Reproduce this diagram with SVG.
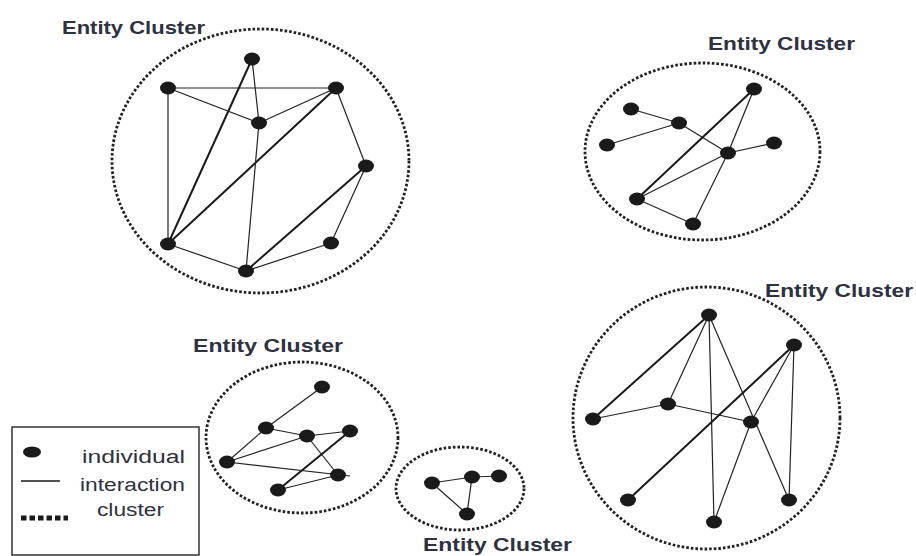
<svg xmlns="http://www.w3.org/2000/svg" width="916" height="556" viewBox="0 0 916 556">
<style>
.cl{fill:none;stroke:#222;stroke-width:2.8;stroke-dasharray:2.6 2}
.n{fill:#1a1a1a}
.e{stroke:#222;stroke-width:1.2;fill:none}
.t{stroke:#1a1a1a;stroke-width:2;fill:none}
.lbl{font-family:"Liberation Sans",Arial,sans-serif;font-weight:bold;font-size:19px;fill:#2e3140}
.lg{font-family:"Liberation Sans",Arial,sans-serif;font-size:18px;fill:#2e3140}
</style>
<rect width="916" height="556" fill="#fff"/>

<g id="clusters">
<ellipse id="cluster1" class="cl" cx="260.5" cy="161" rx="148.5" ry="132"/>
<ellipse id="cluster2" class="cl" cx="702.5" cy="151.5" rx="117.5" ry="88.5"/>
<ellipse id="cluster3" class="cl" cx="302" cy="437.5" rx="96" ry="75.5"/>
<ellipse id="cluster4" class="cl" cx="460" cy="488.5" rx="64" ry="41.5"/>
<ellipse id="cluster5" class="cl" cx="706.5" cy="418" rx="133.5" ry="131"/>
</g>

<g id="labels">
<text class="lbl" x="62" y="34" textLength="143" lengthAdjust="spacingAndGlyphs">Entity Cluster</text>
<text class="lbl" x="708" y="50" textLength="147" lengthAdjust="spacingAndGlyphs">Entity Cluster</text>
<text class="lbl" x="193" y="352" textLength="150" lengthAdjust="spacingAndGlyphs">Entity Cluster</text>
<text class="lbl" x="765" y="297" textLength="148" lengthAdjust="spacingAndGlyphs">Entity Cluster</text>
<text class="lbl" x="423" y="551" textLength="149" lengthAdjust="spacingAndGlyphs">Entity Cluster</text>
</g>

<g id="connectors">
<!-- cluster 1 -->
<line class="e" x1="168" y1="88" x2="336" y2="88"/>
<line class="e" x1="168" y1="88" x2="259" y2="123"/>
<line class="e" x1="259" y1="123" x2="336" y2="88"/>
<line class="e" x1="252" y1="59" x2="259" y2="123"/>
<line class="t" x1="252" y1="59" x2="168" y2="244"/>
<line class="e" x1="168" y1="88" x2="168" y2="244"/>
<line class="t" x1="336" y1="88" x2="168" y2="244"/>
<line class="e" x1="336" y1="88" x2="366" y2="166"/>
<line class="e" x1="259" y1="123" x2="246" y2="271"/>
<line class="e" x1="168" y1="244" x2="246" y2="271"/>
<line class="t" x1="366" y1="166" x2="246" y2="271"/>
<line class="e" x1="366" y1="166" x2="331" y2="243"/>
<line class="e" x1="331" y1="243" x2="246" y2="271"/>
<!-- cluster 2 -->
<line class="e" x1="631" y1="109" x2="679" y2="123"/>
<line class="e" x1="679" y1="123" x2="607" y2="145"/>
<line class="e" x1="679" y1="123" x2="728" y2="153"/>
<line class="e" x1="728" y1="153" x2="774" y2="143"/>
<line class="t" x1="754" y1="89" x2="637" y2="199"/>
<line class="e" x1="754" y1="89" x2="728" y2="153"/>
<line class="e" x1="728" y1="153" x2="637" y2="199"/>
<line class="e" x1="728" y1="153" x2="693" y2="224"/>
<line class="e" x1="637" y1="199" x2="693" y2="224"/>
<!-- cluster 3 -->
<line class="e" x1="322" y1="387" x2="266" y2="428"/>
<line class="e" x1="266" y1="428" x2="307" y2="436"/>
<line class="e" x1="307" y1="436" x2="350" y2="431"/>
<line class="e" x1="266" y1="428" x2="227" y2="462"/>
<line class="e" x1="307" y1="436" x2="227" y2="462"/>
<line class="e" x1="227" y1="462" x2="350" y2="476"/>
<line class="e" x1="307" y1="436" x2="338" y2="475"/>
<line class="t" x1="350" y1="431" x2="278" y2="490"/>
<line class="e" x1="278" y1="490" x2="338" y2="475"/>
<!-- cluster 4 -->
<line class="e" x1="432" y1="483" x2="472" y2="477"/>
<line class="e" x1="472" y1="477" x2="499" y2="476"/>
<line class="e" x1="432" y1="483" x2="467" y2="514"/>
<line class="e" x1="472" y1="477" x2="467" y2="514"/>
<!-- cluster 5 -->
<line class="t" x1="709" y1="315" x2="593" y2="419"/>
<line class="e" x1="709" y1="315" x2="668" y2="404"/>
<line class="e" x1="709" y1="315" x2="714" y2="522"/>
<line class="e" x1="709" y1="315" x2="789" y2="500"/>
<line class="e" x1="593" y1="419" x2="668" y2="404"/>
<line class="e" x1="668" y1="404" x2="751" y2="422"/>
<line class="t" x1="794" y1="345" x2="628" y2="500"/>
<line class="e" x1="794" y1="345" x2="751" y2="422"/>
<line class="e" x1="794" y1="345" x2="789" y2="500"/>
<line class="e" x1="751" y1="422" x2="714" y2="522"/>
</g>

<g id="cluster1-nodes">
<ellipse id="n1a" class="n" cx="252" cy="59" rx="8" ry="6.5"/>
<ellipse id="n1b" class="n" cx="168" cy="88" rx="8" ry="6.5"/>
<ellipse id="n1c" class="n" cx="336" cy="88" rx="8" ry="6.5"/>
<ellipse id="n1d" class="n" cx="259" cy="123" rx="8" ry="6.5"/>
<ellipse id="n1e" class="n" cx="366" cy="166" rx="8" ry="6.5"/>
<ellipse id="n1f" class="n" cx="168" cy="244" rx="8" ry="6.5"/>
<ellipse id="n1g" class="n" cx="331" cy="243" rx="8" ry="6.5"/>
<ellipse id="n1h" class="n" cx="246" cy="271" rx="8" ry="6.5"/>
</g>
<g id="cluster2-nodes">
<ellipse id="n2a" class="n" cx="754" cy="89" rx="8" ry="6.5"/>
<ellipse id="n2b" class="n" cx="631" cy="109" rx="8" ry="6.5"/>
<ellipse id="n2c" class="n" cx="679" cy="123" rx="8" ry="6.5"/>
<ellipse id="n2d" class="n" cx="607" cy="145" rx="8" ry="6.5"/>
<ellipse id="n2e" class="n" cx="728" cy="153" rx="8" ry="6.5"/>
<ellipse id="n2f" class="n" cx="774" cy="143" rx="8" ry="6.5"/>
<ellipse id="n2g" class="n" cx="637" cy="199" rx="8" ry="6.5"/>
<ellipse id="n2h" class="n" cx="693" cy="224" rx="8" ry="6.5"/>
</g>
<g id="cluster3-nodes">
<ellipse id="n3a" class="n" cx="322" cy="387" rx="8" ry="6.5"/>
<ellipse id="n3b" class="n" cx="266" cy="428" rx="8" ry="6.5"/>
<ellipse id="n3c" class="n" cx="307" cy="436" rx="8" ry="6.5"/>
<ellipse id="n3d" class="n" cx="350" cy="431" rx="8" ry="6.5"/>
<ellipse id="n3e" class="n" cx="227" cy="462" rx="8" ry="6.5"/>
<ellipse id="n3f" class="n" cx="338" cy="475" rx="8" ry="6.5"/>
<ellipse id="n3g" class="n" cx="278" cy="490" rx="8" ry="6.5"/>
</g>
<g id="cluster4-nodes">
<ellipse id="n4a" class="n" cx="432" cy="483" rx="8" ry="6.5"/>
<ellipse id="n4b" class="n" cx="472" cy="477" rx="8" ry="6.5"/>
<ellipse id="n4c" class="n" cx="499" cy="476" rx="8" ry="6.5"/>
<ellipse id="n4d" class="n" cx="467" cy="514" rx="8" ry="6.5"/>
</g>
<g id="cluster5-nodes">
<ellipse id="n5a" class="n" cx="709" cy="315" rx="8" ry="6.5"/>
<ellipse id="n5b" class="n" cx="794" cy="345" rx="8" ry="6.5"/>
<ellipse id="n5c" class="n" cx="668" cy="404" rx="8" ry="6.5"/>
<ellipse id="n5d" class="n" cx="593" cy="419" rx="8" ry="6.5"/>
<ellipse id="n5e" class="n" cx="751" cy="422" rx="8" ry="6.5"/>
<ellipse id="n5f" class="n" cx="628" cy="500" rx="8" ry="6.5"/>
<ellipse id="n5g" class="n" cx="789" cy="500" rx="8" ry="6.5"/>
<ellipse id="n5h" class="n" cx="714" cy="522" rx="8" ry="6.5"/>
</g>

<g id="legend">
<rect x="12" y="427" width="187" height="128" fill="#fff" stroke="#333" stroke-width="1.5"/>
<ellipse cx="32" cy="452" rx="9" ry="5.5" fill="#1a1a1a"/>
<text class="lg" x="82" y="463" textLength="103" lengthAdjust="spacingAndGlyphs">individual</text>
<line x1="21" y1="481" x2="60" y2="481" stroke="#1a1a1a" stroke-width="1.5"/>
<text class="lg" x="80" y="491" textLength="105" lengthAdjust="spacingAndGlyphs">interaction</text>
<line x1="21" y1="518" x2="68" y2="518" stroke="#1a1a1a" stroke-width="5" stroke-dasharray="5.5 3"/>
<text class="lg" x="97" y="516" textLength="67" lengthAdjust="spacingAndGlyphs">cluster</text>
</g>
</svg>
